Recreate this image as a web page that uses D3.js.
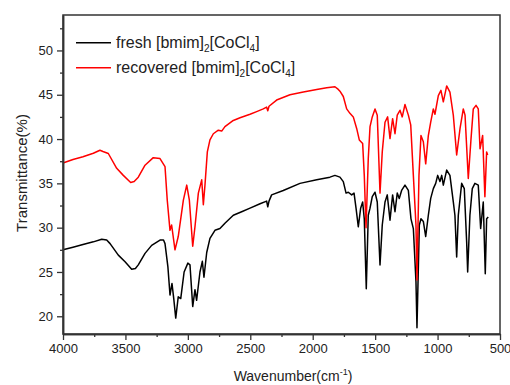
<!DOCTYPE html>
<html>
<head>
<meta charset="utf-8">
<script src="https://cdn.jsdelivr.net/npm/d3@7"></script>
<style>
  body { margin: 0; background: #fff; }
  text { font-family: Arial, "Liberation Sans", sans-serif; fill: #222; }
</style>
</head>
<body>
<div id="chart"></div>
<script>
// Fresh catalyst spectrum (wavenumber, transmittance)
const freshWavenumber = [4000, 3920, 3840, 3757, 3690, 3650, 3623, 3557, 3503, 3450, 3420, 3397, 3343, 3290, 3223, 3195, 3183, 3160, 3143, 3127, 3113, 3097, 3077, 3057, 3030, 3000, 2983, 2961, 2943, 2930, 2903, 2884, 2871, 2849, 2823, 2783, 2743, 2703, 2636, 2569, 2502, 2422, 2369, 2360, 2350, 2329, 2236, 2102, 1968, 1862, 1822, 1782, 1755, 1733, 1715, 1688, 1669, 1653, 1635, 1616, 1600, 1587, 1571, 1555, 1541, 1523, 1501, 1483, 1461, 1443, 1421, 1403, 1381, 1360, 1341, 1323, 1307, 1288, 1261, 1234, 1213, 1194, 1173, 1165, 1146, 1133, 1114, 1095, 1074, 1055, 1034, 1015, 999, 981, 967, 954, 927, 901, 874, 861, 847, 834, 807, 786, 767, 759, 741, 722, 701, 674, 655, 634, 618, 607, 594];
const freshT = [27.5, 27.8, 28.1, 28.4, 28.7, 28.6, 28.2, 26.9, 26.15, 25.3, 25.4, 25.8, 27.1, 28.0, 28.6, 28.6, 28.2, 25.6, 22.4, 23.7, 22.0, 19.8, 22.2, 22.0, 25.0, 26.0, 25.8, 21.1, 23.0, 21.8, 25.0, 26.2, 24.4, 27.2, 28.8, 29.7, 29.9, 30.5, 31.4, 31.8, 32.2, 32.7, 33.0, 32.35, 33.0, 33.7, 34.2, 35.0, 35.4, 35.7, 35.9, 35.7, 35.2, 33.9, 34.0, 33.7, 33.9, 32.2, 30.1, 32.2, 32.9, 31.0, 23.1, 31.4, 32.2, 33.5, 34.0, 32.9, 25.8, 30.3, 32.9, 33.7, 30.85, 33.7, 31.8, 33.9, 33.3, 34.2, 34.8, 34.2, 31.0, 29.9, 23.9, 18.7, 30.3, 31.0, 30.7, 29.0, 31.4, 33.3, 34.4, 35.0, 35.9, 35.2, 35.9, 34.8, 36.5, 35.9, 32.9, 31.4, 26.7, 31.4, 35.0, 34.4, 28.4, 25.0, 31.4, 34.4, 35.0, 34.8, 29.9, 32.9, 24.8, 31.0, 31.2];

// Recovered catalyst spectrum
const recoveredWavenumber = [4000, 3920, 3840, 3757, 3704, 3680, 3637, 3570, 3517, 3458, 3430, 3397, 3343, 3277, 3223, 3183, 3165, 3143, 3130, 3103, 3077, 3036, 3009, 2988, 2961, 2943, 2916, 2889, 2876, 2863, 2844, 2823, 2796, 2756, 2729, 2703, 2636, 2582, 2502, 2449, 2396, 2369, 2360, 2350, 2289, 2182, 2075, 1968, 1888, 1822, 1795, 1782, 1755, 1728, 1702, 1675, 1648, 1627, 1600, 1587, 1573, 1555, 1541, 1523, 1501, 1483, 1461, 1443, 1421, 1400, 1381, 1360, 1341, 1323, 1301, 1283, 1261, 1234, 1215, 1194, 1173, 1165, 1149, 1133, 1114, 1095, 1074, 1055, 1034, 1021, 994, 973, 954, 927, 901, 874, 847, 820, 794, 780, 754, 732, 714, 692, 674, 660, 639, 621, 607, 599];
const recoveredT = [37.3, 37.7, 38.0, 38.4, 38.74, 38.6, 38.37, 36.7, 35.9, 35.1, 35.2, 35.7, 37.05, 37.9, 37.8, 36.9, 33.1, 29.7, 30.3, 27.5, 29.0, 33.1, 34.8, 33.1, 27.9, 30.1, 33.9, 35.4, 32.6, 34.8, 38.55, 39.9, 40.6, 41.0, 40.9, 41.4, 42.1, 42.4, 42.8, 43.1, 43.4, 43.6, 43.2, 43.7, 44.4, 45.0, 45.3, 45.6, 45.8, 45.9, 45.6, 45.4, 44.8, 43.4, 42.9, 42.5, 41.2, 39.9, 39.5, 35.9, 30.0, 37.8, 41.4, 42.5, 43.4, 42.7, 33.9, 38.55, 41.9, 42.5, 40.05, 42.3, 40.6, 42.7, 43.25, 42.5, 43.9, 42.7, 41.6, 35.9, 30.3, 24.1, 35.9, 40.4, 39.7, 37.2, 40.4, 41.9, 43.4, 42.8, 44.9, 45.5, 44.2, 46.0, 45.3, 42.7, 38.2, 41.2, 43.4, 42.7, 35.55, 40.05, 43.4, 43.8, 43.4, 38.9, 40.4, 33.5, 38.55, 38.2];

const seriesNames = ["fresh", "recovered"];
const seriesColors = ["#000000", "#ff0000"];

const xTicks = [4000, 3500, 3000, 2500, 2000, 1500, 1000, 500];
const xMinorTicks = [3750, 3250, 2750, 2250, 1750, 1250, 750];
const yTicks = [20, 25, 30, 35, 40, 45, 50];
const yMinorTicks = [22.5, 27.5, 32.5, 37.5, 42.5, 47.5, 52.5];

// Set dimensions
const margin = { top: 15, right: 10, bottom: 51, left: 63 };
const width = 510 - margin.left - margin.right;
const height = 385 - margin.top - margin.bottom;

const svg = d3.select("#chart")
    .append("svg")
    .attr("width", 510)
    .attr("height", 385)
    .append("g")
    .attr("transform", `translate(${margin.left},${margin.top})`);

// Scales (reversed wavenumber axis)
const x = d3.scaleLinear().domain([4000, 500]).range([0, width]);
const y = d3.scaleLinear().domain([18, 54]).range([height, 0]);

// Spectra
const line = d3.line()
    .x(d => x(d[0]))
    .y(d => y(d[1]));

const series = [
    d3.zip(freshWavenumber, freshT),
    d3.zip(recoveredWavenumber, recoveredT)
];

svg.selectAll(".spectrum")
    .data(series)
    .enter()
    .append("path")
    .attr("class", "spectrum")
    .attr("fill", "none")
    .attr("stroke", (d, i) => seriesColors[i])
    .attr("stroke-width", 1.5)
    .attr("stroke-linejoin", "round")
    .attr("d", line);

// Frame
svg.append("rect")
    .attr("width", width)
    .attr("height", height)
    .attr("fill", "none")
    .attr("stroke", "#333")
    .attr("stroke-width", 1.5);

// X axis
svg.append("g")
    .attr("transform", `translate(0,${height})`)
    .call(d3.axisBottom(x).tickValues(xTicks).tickSize(6).tickSizeOuter(0).tickPadding(4).tickFormat(d3.format("d")));
svg.append("g")
    .attr("transform", `translate(0,${height})`)
    .call(d3.axisBottom(x).tickValues(xMinorTicks).tickSize(3).tickSizeOuter(0).tickFormat(""));

// Y axis
svg.append("g")
    .call(d3.axisLeft(y).tickValues(yTicks).tickSize(6).tickSizeOuter(0).tickPadding(4));
svg.append("g")
    .call(d3.axisLeft(y).tickValues(yMinorTicks).tickSize(3).tickSizeOuter(0).tickFormat(""));

svg.selectAll(".domain").attr("stroke", "#333").attr("stroke-width", 1.5);
svg.selectAll(".tick line").attr("stroke", "#333").attr("stroke-width", 1.3);
svg.selectAll(".tick text")
    .style("font-family", "Arial, 'Liberation Sans', sans-serif")
    .style("font-size", "13px")
    .attr("fill", "#222");

// Y-axis label
svg.append("text")
    .attr("transform", "rotate(-90)")
    .attr("x", -(173 - margin.top))
    .attr("y", 27 - margin.left)
    .attr("text-anchor", "middle")
    .style("font-size", "15px")
    .text("Transmittance(%)");

// X-axis label
const xLabel = svg.append("text")
    .attr("x", 293 - margin.left)
    .attr("y", 381 - margin.top)
    .attr("text-anchor", "middle")
    .style("font-size", "14px");
xLabel.append("tspan").text("Wavenumber(cm");
xLabel.append("tspan").attr("dy", -6).style("font-size", "9px").text("-1");
xLabel.append("tspan").attr("dy", 6).text(")");

// Legend
const legendLabels = ["fresh [bmim]", "recovered [bmim]"];
const legend = svg.selectAll(".legend")
    .data(seriesNames)
    .enter()
    .append("g")
    .attr("class", "legend")
    .attr("transform", (d, i) => `translate(${76 - margin.left},${42.7 + i * 25 - margin.top})`);

legend.append("line")
    .attr("x1", 0)
    .attr("x2", 35)
    .attr("stroke", (d, i) => seriesColors[i])
    .attr("stroke-width", 1.5);

const legendText = legend.append("text")
    .attr("x", 40)
    .attr("y", 5.5)
    .style("font-size", "16px");
legendText.append("tspan").text((d, i) => legendLabels[i]);
legendText.append("tspan").attr("dy", 4).style("font-size", "10px").text("2");
legendText.append("tspan").attr("dy", -4).text("[CoCl");
legendText.append("tspan").attr("dy", 4).style("font-size", "10px").text("4");
legendText.append("tspan").attr("dy", -4).text("]");
</script>
</body>
</html>
